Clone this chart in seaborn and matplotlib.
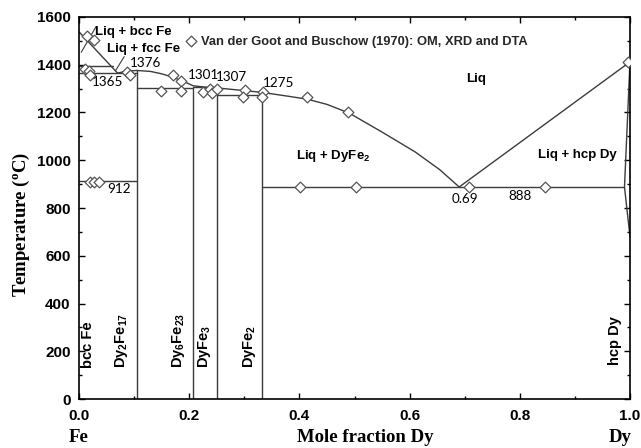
import matplotlib
matplotlib.use("Agg")
import matplotlib.pyplot as plt
import matplotlib.transforms as mtransforms
from matplotlib.ticker import MultipleLocator, FormatStrFormatter
import seaborn as sns
import pandas as pd

# ---- phase-boundary data (mole fraction Dy, temperature in deg C) ----
liq_fe_x = [0.0, 0.07]
liq_fe_t = [1538, 1365]

liq_main_x = [0.07, 0.085, 0.105, 0.13, 0.15, 0.17, 0.19, 0.207, 0.23, 0.25,
              0.29, 0.333, 0.38, 0.414, 0.45, 0.49, 0.55, 0.61, 0.655, 0.69]
liq_main_t = [1365, 1373, 1376, 1372, 1362, 1348, 1330, 1312, 1306, 1303,
              1294, 1284, 1268, 1256, 1234, 1198, 1118, 1035, 960, 888]

liq_dy_x = [0.69, 1.0]
liq_dy_t = [888, 1412]

solidus_dy_x = [1.0, 0.99, 1.0]
solidus_dy_t = [1412, 888, 680]

# invariant (horizontal) lines: start x, end x, temperature
inv_x0 = [0.0, 0.0, 0.0, 0.105, 0.207, 0.25, 0.333]
inv_x1 = [0.062, 0.105, 0.105, 0.207, 0.25, 0.333, 0.99]
inv_t = [1394, 1365, 912, 1301, 1307, 1275, 888]

# intermetallic compounds
comp_x = [0.105, 0.207, 0.25, 0.333]
comp_top = [1376, 1301, 1307, 1275]
comp_names = ["Dy$_2$Fe$_{17}$", "Dy$_6$Fe$_{23}$", "DyFe$_3$", "DyFe$_2$"]
comp_label_x = [0.078, 0.18, 0.227, 0.31]

# experimental points, Van der Goot and Buschow (1970)
exp_x = [0.014, 0.027, 0.011, 0.018, 0.02, 0.087, 0.093,
         0.171, 0.186, 0.149, 0.186, 0.225, 0.238, 0.241, 0.251,
         0.302, 0.298, 0.334, 0.333, 0.413, 0.488,
         0.02, 0.028, 0.037,
         0.401, 0.503, 0.708, 0.845, 0.997]
exp_t = [1522, 1502, 1383, 1375, 1357, 1371, 1357,
         1355, 1331, 1291, 1291, 1285, 1299, 1281, 1300,
         1294, 1265, 1287, 1266, 1266, 1203,
         910, 910, 910,
         886, 886, 889, 888, 1413]

# invariant temperature labels: text, x, T
num_text = ["1376", "1365", "1301", "1307", "1275", "912", "0.69", "888"]
num_x = [0.093, 0.024, 0.197, 0.248, 0.334, 0.051, 0.7, 0.8]
num_t = [1407, 1328, 1357, 1349, 1323, 880, 838, 850]
num_ha = ["left", "left", "left", "left", "left", "left", "center", "center"]

sns.set_theme(style="ticks")
plt.rcParams["font.family"] = ["Liberation Sans", "DejaVu Sans"]
plt.rcParams["mathtext.fontset"] = "custom"
plt.rcParams["mathtext.rm"] = "Liberation Sans:bold"
plt.rcParams["mathtext.it"] = "Liberation Sans:bold"
plt.rcParams["mathtext.bf"] = "Liberation Sans:bold"

fig = plt.figure(figsize=(6.41, 4.48), dpi=100)
ax = fig.add_axes([79 / 641, 49 / 448, 551 / 641, 382 / 448])

lc = "#3c3c3c"
lw = 1.0

def draw(xs, ts):
    d = pd.DataFrame({"x": xs, "t": ts})
    sns.lineplot(data=d, x="x", y="t", ax=ax, color=lc, linewidth=lw,
                 sort=False, estimator=None)

draw(liq_fe_x, liq_fe_t)
draw(liq_main_x, liq_main_t)
draw(liq_dy_x, liq_dy_t)
draw(solidus_dy_x, solidus_dy_t)
for x0, x1, t in zip(inv_x0, inv_x1, inv_t):
    draw([x0, x1], [t, t])
for x, top in zip(comp_x, comp_top):
    draw([x, x], [0, top])

exp_df = pd.DataFrame({"x": exp_x, "t": exp_t})
sns.scatterplot(data=exp_df, x="x", y="t", ax=ax, marker="D", s=30,
                facecolor="white", edgecolor="#555555", linewidth=0.9,
                label="Van der Goot and Buschow (1970): OM, XRD and DTA",
                zorder=5)

# leader lines for the small two-phase fields near pure Fe
ax.plot([0.031, 0.004], [1560, 1452], color=lc, lw=0.8)
ax.plot([0.082, 0.066], [1434, 1374], color=lc, lw=0.8)

bold = dict(fontweight="bold", color="black")
ax.text(0.029, 1537, "Liq + bcc Fe", fontsize=9.5, va="center", **bold)
ax.text(0.051, 1468, "Liq + fcc Fe", fontsize=9.5, va="center", **bold)
ax.text(0.72, 1340, "Liq", fontsize=9.5, ha="center", va="center", **bold)
ax.text(0.461, 1018, "Liq + DyFe$_2$", fontsize=9.5, ha="center", va="center", **bold)
ax.text(0.904, 1022, "Liq + hcp Dy", fontsize=9.5, ha="center", va="center", **bold)

ax.text(0.016, 130, "bcc Fe", fontsize=10.5, rotation=90, ha="center", va="bottom", **bold)
ax.text(0.973, 142, "hcp Dy", fontsize=10.5, rotation=90, ha="center", va="bottom", **bold)
for name, lx in zip(comp_names, comp_label_x):
    ax.text(lx, 130, name, fontsize=10.5, rotation=90, ha="center", va="bottom", **bold)

for txt, x, t, ha in zip(num_text, num_x, num_t, num_ha):
    ax.text(x, t, txt, fontsize=9.7, ha=ha, va="center", color="black",
            family=["Lato", "DejaVu Sans"])

ax.legend(loc="center left", bbox_to_anchor=(0.196, 0.935), frameon=False,
          handlelength=0.6, handletextpad=0.5, borderpad=0, borderaxespad=0,
          prop={"weight": "bold", "size": 9.3})

ax.set_xlim(0, 1.0)
ax.set_ylim(0, 1600)
ax.xaxis.set_major_locator(MultipleLocator(0.2))
ax.xaxis.set_minor_locator(MultipleLocator(0.1))
ax.yaxis.set_major_locator(MultipleLocator(200))
ax.yaxis.set_minor_locator(MultipleLocator(100))
ax.xaxis.set_major_formatter(FormatStrFormatter("%.1f"))
ax.tick_params(which="both", direction="in", top=True, right=True, colors="black",
               width=1.0)
ax.tick_params(which="major", length=4, labelsize=11)
ax.tick_params(axis="x", which="major", pad=7)
ax.tick_params(axis="y", which="major", pad=6)
ax.tick_params(which="minor", length=2.5)
for lab in ax.get_xticklabels() + ax.get_yticklabels():
    lab.set_fontweight("bold")
for sp in ax.spines.values():
    sp.set_visible(True)
    sp.set_color("black")
    sp.set_linewidth(1.2)
ax.set_xlabel("")
ax.set_ylabel("")

serif = dict(family=["Liberation Serif", "DejaVu Serif"], fontsize=13.5,
             fontweight="bold", color="black")
ax.text(-0.105, 0.458, "Temperature ($\\mathregular{^{o}}$C)", transform=ax.transAxes,
        rotation=90, ha="center", va="center", **serif)
ax.text(0.519, -0.1, "Mole fraction Dy", transform=ax.transAxes,
        ha="center", va="center", **serif)
trans = mtransforms.blended_transform_factory(ax.transData, ax.transAxes)
ax.text(0.0, -0.1, "Fe", transform=trans, ha="center", va="center", **serif)
ax.text(0.982, -0.1, "Dy", transform=trans, ha="center", va="center", **serif)

fig.savefig("out.png", dpi=100, facecolor="white")
